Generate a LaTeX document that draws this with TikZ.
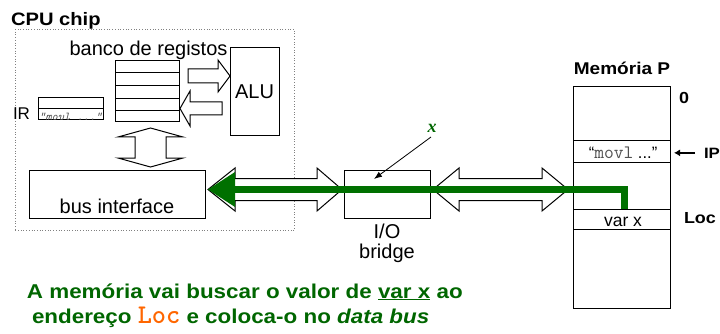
\documentclass[tikz,border=0pt]{standalone}
\usepackage{fontspec}
\setmainfont{Liberation Sans}[BoldFeatures={FakeStretch=1.12},BoldItalicFeatures={FakeStretch=1.12}]
\newfontfamily\seriff{Liberation Serif}
\usetikzlibrary{calc,arrows.meta}
\definecolor{gbar}{RGB}{0,112,0}
\definecolor{gtext}{RGB}{0,102,0}
\definecolor{locor}{RGB}{255,102,0}
\definecolor{movgray}{RGB}{80,80,80}
\newcommand\myfs[1]{\fontsize{#1}{#1}\selectfont}
\begin{document}
\begin{tikzpicture}[x=1pt,y=-1pt,
  box/.style={draw, line width=1pt, inner sep=0pt, outer sep=0pt},
  barrow/.style={draw, fill=white, line width=1pt, line join=miter},
  txt/.style={inner sep=0pt, outer sep=0pt, anchor=base},
  ]
\useasboundingbox (0,0) rectangle (720,334);

% CPU chip
\node[draw=gray, dotted, line width=0.7pt, minimum width=279pt, minimum height=201pt, anchor=north west, inner sep=0pt] (cpu) at (15,29) {};
\node[txt, anchor=base west, font=\bfseries\myfs{18}] (cpulbl) at (11,26) {CPU chip};

% register file
\node[txt, font=\myfs{20}] (banco) at (148.5,56) {banco de registos};
\node[box, minimum width=64pt, minimum height=61pt, anchor=north west] (regs) at (115,61) {};
\foreach \yy in {73,86,99,111} \draw[line width=1pt] (115,\yy) -- (179,\yy);

% ALU
\node[box, minimum width=49pt, minimum height=88pt, anchor=north west, font=\myfs{20}] (alu) at (230,48) {ALU};

% arrows regs <-> ALU
\draw[barrow] (188,69) -- (218,69) -- (218,60) -- (230,76) -- (218,92) -- (218,83) -- (188,83) -- cycle;
\draw[barrow] (222,102) -- (190,102) -- (190,91) -- (180,108.5) -- (190,126) -- (190,115) -- (222,115) -- cycle;

% IR
\node[box, minimum width=65pt, minimum height=22pt, anchor=north west] (ir) at (38,98) {};
\draw[line width=1pt] (38,109) -- (103,109);
\node[txt, anchor=base west, font=\myfs{17}] (irlbl) at (13,119.5) {IR};
\begin{scope}
\clip (38.5,109.5) rectangle (102.5,120);
\node[txt, anchor=base west, font=\ttfamily\itshape\myfs{12}, text=movgray] (irtxt) at (39,120.5) {“movl ...”};
\end{scope}

% vertical double arrow
\draw[barrow] (150.5,128) -- (183,137) -- (166,137) -- (166,158) -- (183,158) -- (150.5,167) -- (118,158) -- (135,158) -- (135,137) -- (118,137) -- cycle;

% bus interface
\node[box, minimum width=176pt, minimum height=48pt, anchor=north west] (bi) at (29,170) {};
\node[txt, font=\myfs{20}] (bilbl) at (117,213) {bus interface};

% I/O bridge
\node[box, minimum width=86pt, minimum height=48pt, anchor=north west] (br) at (344,170) {};
\node[txt, font=\myfs{20}] (iolbl) at (387,238) {I/O};
\node[txt, font=\myfs{20}] (brlbl) at (387,258) {bridge};

% bus arrows
\draw[barrow] (208,189.5) -- (235,168) -- (235,178.5) -- (317,178.5) -- (317,168) -- (342,189.5) -- (317,211) -- (317,200.5) -- (235,200.5) -- (235,211) -- cycle;
\draw[barrow] (433,189.5) -- (459,168) -- (459,178.5) -- (542,178.5) -- (542,168) -- (568,189.5) -- (542,211) -- (542,200.5) -- (459,200.5) -- (459,211) -- cycle;

% memory
\node[txt, font=\bfseries\myfs{17}] (memlbl) at (622,75) {Memória P};
\node[box, minimum width=97pt, minimum height=221pt, anchor=north west] (mem) at (573,87) {};
\foreach \yy in {141,162,209,229} \draw[line width=1pt] (573,\yy) -- (670,\yy);
\node[txt, font=\myfs{16.5}] (movl) at (623,158) {“\textcolor{movgray}{\ttfamily\myfs{19}movl}~...”};
\node[txt, font=\myfs{17.5}] (varx) at (623,226) {var x};
\node[txt, anchor=base west, font=\bfseries\myfs{16}] (zero) at (679,104) {0};
\node[txt, anchor=base west, font=\bfseries\myfs{15}] (ip) at (704,158) {IP};
\coordinate (ipt) at (674,152);
\draw[line width=1.4pt, -{Latex[length=6pt,width=7pt]}] ([xshift=-9pt]ip.west) -- (ipt |- ip.west);
\node[txt, anchor=base west, font=\bfseries\myfs{16}] (loc) at (684,223) {Loc};

% x label
\node[txt, font=\seriff\bfseries\itshape\myfs{18}, text=gtext] (xl) at (432,133) {x};
\coordinate (xtip) at (374,179);
\draw[line width=0.8pt, -{Latex[length=8pt,width=6pt]}] ([shift={(-1pt,-4pt)}]xl.south) -- (xtip);

% green data path
\coordinate (gtip) at (208,189.5);
\coordinate (gend) at (624,209);
\draw[gbar, line width=7pt, line join=miter] (230,189.5) -- (gend |- gtip) -- (gend);
\fill[gbar] (gtip) -- (235,172) -- (235,207) -- cycle;

% caption
\node[txt, anchor=base west, font=\bfseries\myfs{20}, text=gtext] (cap1) at (27,298) {A memória vai buscar o valor de \underline{var x} ao};
\node[txt, anchor=base west, font=\bfseries\myfs{20}, text=gtext] (cap2) at (32,323) {endereço {\ttfamily\bfseries\myfs{27}\color{locor}Loc} e coloca-o no \textit{data bus}};
\end{tikzpicture}
\end{document}
